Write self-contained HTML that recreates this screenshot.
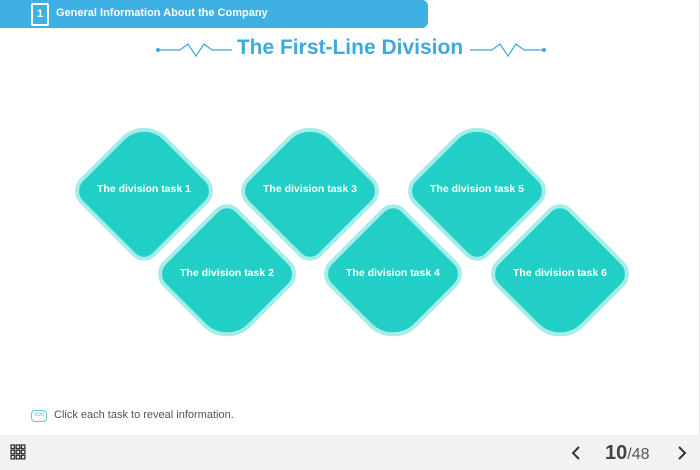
<!DOCTYPE html><html><head><style>
body{margin:0;width:700px;height:470px;position:relative;background:#fff;font-family:"Liberation Sans",sans-serif;overflow:hidden}
.hdr{position:absolute;left:0;top:0;width:428px;height:28px;background:#3eb0e4;border-radius:0 6px 6px 0}
.hdr .ic{position:absolute;left:31px;top:3px;width:14px;height:19px;border:2px solid #fff;border-radius:2px;color:#fff;font-size:11px;font-weight:bold;text-align:center;line-height:19px}
.hdr .t{position:absolute;left:56px;top:7px;color:#fff;font-size:11px;font-weight:bold}
.title{position:absolute;left:0;width:700px;top:36px;text-align:center;color:#3eaadc;font-size:21px;font-weight:bold}
.d{position:absolute;width:100px;height:100px;background:#22cfc6;border:4px solid #a6ece8;transform:rotate(45deg);border-radius:32px 18px 16px 18px}
.d.b{border-radius:16px 18px 34px 18px}
.l{position:absolute;width:160px;text-align:center;color:#fff;font-size:10.5px;font-weight:bold}
.foot{position:absolute;left:0;top:435px;width:700px;height:35px;background:#f2f2f2}
</style></head><body>
<div style="position:absolute;right:0;top:0;width:1px;height:435px;background:#e6e6e6"></div>
<div class="hdr"><div class="ic">1</div><div class="t">General Information About the Company</div></div>
<svg style="position:absolute;left:150px;top:38px" width="400" height="24">
<g fill="none" stroke="#3eaadc" stroke-width="1.2">
<path d="M8 12 H30 L38 6 L46 18 L54 6 L62 12 H82"/>
<path d="M320 12 H342 L350 6 L358 18 L366 6 L374 12 H394"/></g>
<circle cx="8" cy="12" r="2" fill="#3eaadc"/><circle cx="394" cy="12" r="2" fill="#3eaadc"/></svg>
<div class="title">The First-Line Division</div>

<div class="d" style="left:90px;top:137px"></div>
<div class="d" style="left:256px;top:137px"></div>
<div class="d" style="left:423px;top:137px"></div>
<div class="d b" style="left:173px;top:220px"></div>
<div class="d b" style="left:339px;top:220px"></div>
<div class="d b" style="left:506px;top:220px"></div>
<div class="l" style="left:64px;top:183px">The division task 1</div>
<div class="l" style="left:230px;top:183px">The division task 3</div>
<div class="l" style="left:397px;top:183px">The division task 5</div>
<div class="l" style="left:147px;top:267px">The division task 2</div>
<div class="l" style="left:313px;top:267px">The division task 4</div>
<div class="l" style="left:480px;top:267px">The division task 6</div>

<div style="position:absolute;left:31px;top:410px;width:14px;height:10px;border:1.5px solid #6bbfe0;border-radius:4px;font-size:6px;color:#6bbfe0;text-align:center;line-height:9px">ooo</div>
<div style="position:absolute;left:54px;top:409px;font-size:11px;color:#555">Click each task to reveal information.</div>
<div class="foot">
<svg style="position:absolute;left:10px;top:9px" width="16" height="16" fill="none" stroke="#333" stroke-width="1.3">
<rect x="1" y="1" width="3.5" height="3.5"/><rect x="6.2" y="1" width="3.5" height="3.5"/><rect x="11.4" y="1" width="3.5" height="3.5"/>
<rect x="1" y="6.2" width="3.5" height="3.5"/><rect x="6.2" y="6.2" width="3.5" height="3.5"/><rect x="11.4" y="6.2" width="3.5" height="3.5"/>
<rect x="1" y="11.4" width="3.5" height="3.5"/><rect x="6.2" y="11.4" width="3.5" height="3.5"/><rect x="11.4" y="11.4" width="3.5" height="3.5"/></svg>
<svg style="position:absolute;left:570px;top:10px" width="12" height="16"><path d="M9 2 L3 8 L9 14" fill="none" stroke="#333" stroke-width="2"/></svg>
<div style="position:absolute;left:605px;top:7px;color:#444;font-size:20px;font-weight:bold">10<span style="font-size:16px;font-weight:normal;color:#555">/48</span></div>
<svg style="position:absolute;left:676px;top:10px" width="12" height="16"><path d="M3 2 L9 8 L3 14" fill="none" stroke="#333" stroke-width="2"/></svg>
</div>
</body></html>
